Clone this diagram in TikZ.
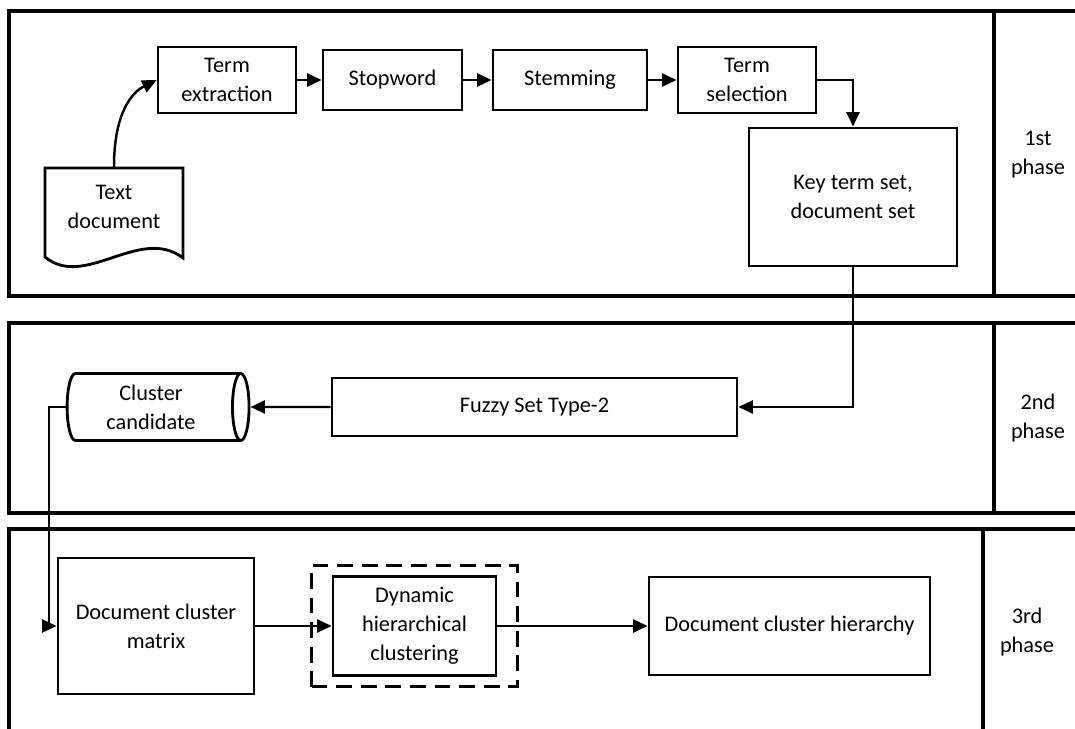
\documentclass[tikz,border=0pt]{standalone}
\usepackage{fontspec}
\setmainfont{Carlito}
\usetikzlibrary{arrows.meta, shapes.geometric, fit}
\tikzset{
  every picture/.style={font=\fontsize{12.7}{16.6}\selectfont, line width=1.4pt},
  box/.style={draw, line width=1.6pt, align=center, inner sep=3pt},
  arrow/.style={-{Triangle[length=2.9mm, width=2.6mm]}, line width=1.4pt},
  frame/.style={line width=1.9pt},
  phase/.style={align=center},
}

\begin{document}
\begin{tikzpicture}[x=0.02cm, y=-0.02cm]
  \useasboundingbox (0,0) rectangle (1075,729);
  % 1st phase
  \draw[frame] (1075,11) -- (9,11) -- (9,296) -- (1075,296);
  \draw[frame] (994,11) -- (994,296);
  \node[phase] (phaseone) at (1038,155) {1st\\phase};
  \draw[line width=1.6pt] (45,168) -- (45,257) .. controls (85,290) and (140,225) .. (183,258) -- (183,168) -- cycle;
  \node[minimum width=2.76cm, minimum height=1.56cm, align=center] (textdoc) at (114,207) {Text\\document};
  \node[box, minimum width=2.76cm, minimum height=1.32cm] (termext) at (227,80) {Term\\extraction};
  \node[box, minimum width=2.78cm, minimum height=1.2cm] (stopword) at (392.5,80) {Stopword};
  \node[box, minimum width=3.08cm, minimum height=1.2cm] (stemming) at (570,80) {Stemming};
  \node[box, minimum width=2.76cm, minimum height=1.32cm] (termsel) at (747,80) {Term\\selection};
  \node[box, minimum width=4.16cm, minimum height=2.76cm] (keyset) at (853,197) {Key term set,\\document set};
  \draw[arrow] (textdoc.north) .. controls +(0,-55) and +(-24,12) .. (termext.west);
  \draw[arrow] (termext) -- (stopword);
  \draw[arrow] (stopword) -- (stemming);
  \draw[arrow] (stemming) -- (termsel);
  \draw[arrow] (termsel.east) -| (keyset.north);
  % 2nd phase
  \draw[frame] (1075,323) -- (9,323) -- (9,513) -- (1075,513);
  \draw[frame] (994,323) -- (994,513);
  \node[phase] (phasetwo) at (1038,418) {2nd\\phase};
  \node[box, minimum width=8.1cm, minimum height=1.16cm] (fuzzy) at (534.5,407) {Fuzzy Set Type-2};
  \node[box, cylinder, aspect=0.3, minimum height=3.64cm, minimum width=1.34cm] (cand) at (151,407) {Cluster\\candidate};
  \coordinate (bend) at (49,407);
  \draw[arrow] (keyset.south) |- (fuzzy.east);
  \draw[arrow] (fuzzy.west) -- (cand);
  % 3rd phase
  \draw[frame] (1075,529) -- (9,529) -- (9,740);
  \draw[frame] (983,529) -- (983,740);
  \node[phase] (phasethree) at (1027,632) {3rd\\phase};
  \node[box, minimum width=3.92cm, minimum height=2.72cm] (docmat) at (156,626) {Document cluster\\matrix};
  \node[box, minimum width=3.26cm, minimum height=1.98cm] (dynamic) at (414.5,626) {Dynamic\\hierarchical\\clustering};
  \node[draw, line width=1.6pt, dash pattern=on 9pt off 5pt, fit=(dynamic), inner xsep=0.4cm, inner ysep=0.2cm] (dashbox) {};
  \node[box, minimum width=5.62cm, minimum height=1.96cm] (hierarchy) at (789.5,626) {Document cluster hierarchy};
  \draw[arrow] (cand.west) -- (bend) |- (docmat.west);
  \draw[arrow] (docmat) -- (dynamic);
  \draw[arrow] (dynamic) -- (hierarchy);
\end{tikzpicture}
\end{document}
